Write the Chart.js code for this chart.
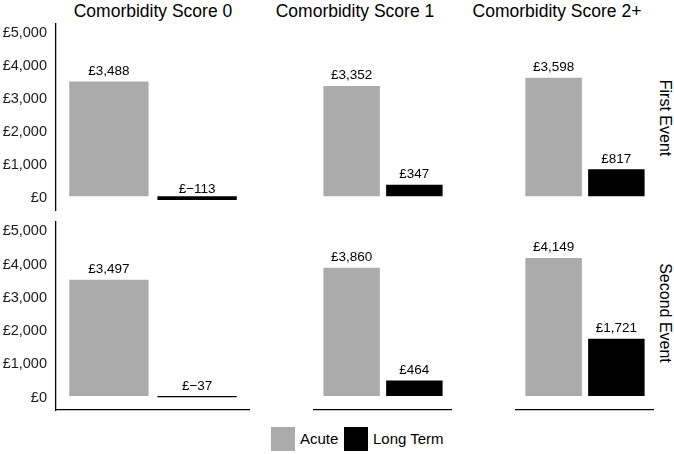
<!DOCTYPE html>
<html><head><meta charset="utf-8">
<script src="https://cdn.jsdelivr.net/npm/chart.js@4"></script>
<style>
body{margin:0;background:#fff;width:674px;height:454px;overflow:hidden;position:relative;font-family:"Liberation Sans",Arial,sans-serif;color:#000}
.p{position:absolute}
.strip{position:absolute;text-align:center;white-space:nowrap}
.col{top:0;height:22px;line-height:22px;font-size:17.5px}
.row{width:190px;height:22px;line-height:22px;font-size:16px;transform:rotate(90deg)}
.lg{position:absolute;top:427px;height:24px;line-height:24px;font-size:15px;white-space:nowrap}
.sw{position:absolute;top:427px;width:24px;height:24px}
</style></head><body>
<div id="root"></div>
<script>
const columns = ['Comorbidity Score 0', 'Comorbidity Score 1', 'Comorbidity Score 2+'];
const rows = ['First Event', 'Second Event'];
const seriesNames = ['Acute', 'Long Term'];
const acuteFirst = [3488, 3352, 3598];
const longTermFirst = [-113, 347, 817];
const acuteSecond = [3497, 3860, 4149];
const longTermSecond = [-37, 464, 1721];
const yTicks = [0, 1000, 2000, 3000, 4000, 5000];

const seriesColors = ['#ababab', '#000000'];
const FONT = '"Liberation Sans", Arial, sans-serif';
const acute = [acuteFirst, acuteSecond];
const longTerm = [longTermFirst, longTermSecond];

function fmt(v) {
  return '£' + (v < 0 ? '\u2212' : '') + Math.abs(v).toLocaleString('en-US');
}

const labelPlugin = {
  id: 'vlabels',
  afterDatasetsDraw(chart) {
    const ctx = chart.ctx;
    ctx.save();
    ctx.font = '13.5px ' + FONT;
    ctx.fillStyle = '#000';
    ctx.textAlign = 'center';
    ctx.textBaseline = 'middle';
    const ds = chart.data.datasets[0];
    chart.getDatasetMeta(0).data.forEach((bar, i) => {
      ctx.fillText(fmt(ds.data[i].y), bar.x, bar.y - 10.5);
    });
    ctx.restore();
  }
};

const panelX = [56, 258, 460];
const panelW = 194;
const panelY = [23, 221];
const panelH = [189, 191];
const stripCY = [117.5, 313];
const root = document.getElementById('root');

for (let r = 0; r < 2; r++) {
  for (let c = 0; c < 3; c++) {
    const div = document.createElement('div');
    div.className = 'p';
    const left = c === 0 ? 0 : panelX[c];
    const width = c === 0 ? panelX[0] + panelW : panelW;
    div.style.left = left + 'px';
    div.style.top = panelY[r] + 'px';
    div.style.width = width + 'px';
    div.style.height = panelH[r] + 'px';
    const cv = document.createElement('canvas');
    div.appendChild(cv);
    root.appendChild(div);
    const vals = [acute[r][c], longTerm[r][c]];
    new Chart(cv, {
      type: 'bar',
      data: {
        datasets: [{
          label: seriesNames.join(' / '),
          data: vals.map((v, i) => ({ x: i + 1, y: v })),
          backgroundColor: seriesColors,
          borderWidth: 0,
          categoryPercentage: 0.9,
          barPercentage: 1
        }]
      },
      options: {
        responsive: true,
        maintainAspectRatio: false,
        animation: false,
        devicePixelRatio: 1,
        layout: { padding: 0 },
        plugins: { legend: { display: false }, tooltip: { enabled: false } },
        scales: {
          x: {
            type: 'linear',
            bounds: 'data',
            offset: false,
            min: 0.4, max: 2.6,
            display: r === 1,
            ticks: { display: false },
            grid: { display: false, drawTicks: false, offset: false },
            border: { display: true, color: '#000', width: 1.3 },
            afterBuildTicks(s) { s.ticks = seriesNames.map((n, i) => ({ value: i + 1 })); },
            afterFit(s) { s.height = 2; s.paddingLeft = 0; s.paddingRight = 0; }
          },
          y: {
            bounds: 'data',
            min: -420, max: 5265,
            display: c === 0,
            ticks: {
              padding: 9,
              labelOffset: 1.5,
              color: '#1a1a1a',
              font: { size: 14.5, family: FONT },
              callback: v => fmt(v)
            },
            grid: { display: false, drawTicks: false },
            border: { display: true, color: '#000', width: 1.3 },
            afterBuildTicks(s) { s.ticks = yTicks.map(v => ({ value: v })); },
            afterFit(s) { s.width = 56; s.paddingTop = 0; s.paddingBottom = 0; }
          }
        }
      },
      plugins: [labelPlugin]
    });
  }
}

columns.forEach((t, c) => {
  const d = document.createElement('div');
  d.className = 'strip col';
  d.style.left = panelX[c] + 'px';
  d.style.width = panelW + 'px';
  d.textContent = t;
  root.appendChild(d);
});
rows.forEach((t, r) => {
  const d = document.createElement('div');
  d.className = 'strip row';
  d.style.left = (665 - 95) + 'px';
  d.style.top = (stripCY[r] - 11) + 'px';
  d.textContent = t;
  root.appendChild(d);
});
const lgX = [[271, 300], [344, 373]];
seriesNames.forEach((n, i) => {
  const s = document.createElement('div');
  s.className = 'sw';
  s.style.left = lgX[i][0] + 'px';
  s.style.background = seriesColors[i];
  root.appendChild(s);
  const t = document.createElement('div');
  t.className = 'lg';
  t.style.left = lgX[i][1] + 'px';
  t.textContent = n;
  root.appendChild(t);
});
</script>
</body></html>
